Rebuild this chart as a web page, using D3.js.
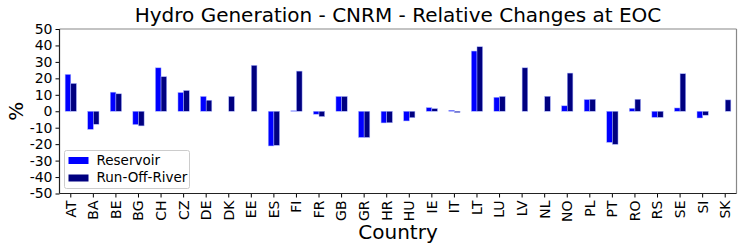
<!DOCTYPE html>
<html>
<head>
<meta charset="utf-8">
<script src="https://cdn.jsdelivr.net/npm/d3@7"></script>
<style>
  body { margin: 0; background: #fff; }
  text { font-family: "DejaVu Sans", sans-serif; }
</style>
</head>
<body>
<div id="main"></div>
<script>
// ---- data ----
var countries = ["AT","BA","BE","BG","CH","CZ","DE","DK","EE","ES","FI","FR","GB","GR","HR",
                 "HU","IE","IT","LT","LU","LV","NL","NO","PL","PT","RO","RS","SE","SI","SK"];
var reservoir = [22.4,-11,11.6,-8.1,26.4,11.4,9,0,0,-21.1,0.3,-1.8,9,-15.9,-7.1,
                 -5.9,2.2,0.6,36.6,8.5,0,0,3.3,7.1,-18.9,1.8,-3.7,2,-4.1,0];
var runOffRiver = [16.9,-7.9,10.6,-8.9,21,12.6,6.7,9,27.9,-20.7,24.4,-3.2,9,-15.9,-7,
                   -3.9,1.6,-0.8,39.2,9,26.4,9.1,23.2,7.3,-20.1,7.3,-3.7,22.8,-2.4,6.9];
var yTicks = d3.range(-50, 51, 10);
var seriesNames = ["Reservoir", "Run-Off-River"];
var seriesColors = ["#0000ff", "#000080"];

var W = 748, H = 252;
var plot = {left: 59.5, right: 736.5, top: 29, bottom: 193.5};

var svg = d3.select("#main").append("svg")
    .attr("width", W)
    .attr("height", H);

var x = d3.scaleBand()
    .domain(countries)
    .range([plot.left, plot.right])
    .padding(0);

var y = d3.scaleLinear()
    .domain([-50, 50])
    .range([plot.bottom, plot.top]);

var barW = x.step() * 0.25;

// bars
var series = [reservoir, runOffRiver];
series.forEach(function(vals, si){
  svg.append("g")
    .selectAll("rect")
    .data(vals)
    .enter()
    .append("rect")
    .attr("x", function(d, i){ return x(countries[i]) + x.bandwidth()/2 + (si - 1) * barW; })
    .attr("width", barW)
    .attr("y", function(d){ return Math.min(y(d), y(0)); })
    .attr("height", function(d){ return Math.abs(y(d) - y(0)); })
    .attr("fill", seriesColors[si])
    .attr("stroke", "#aab4ff")
    .attr("stroke-width", 0.5);
});

// axes
var yAxis = svg.append("g")
    .attr("transform", "translate(" + plot.left + ",0)")
    .call(d3.axisLeft(y).tickValues(yTicks).tickSize(4).tickPadding(3).tickFormat(d3.format("d")));
yAxis.select(".domain").remove();
yAxis.selectAll("text").attr("font-size", 14).attr("fill", "#000")
    .text(function(d){ return d < 0 ? "-" + Math.abs(d) : d; });
yAxis.selectAll("line").attr("stroke", "#000");

var xAxis = svg.append("g")
    .attr("transform", "translate(0," + plot.bottom + ")")
    .call(d3.axisBottom(x).tickSize(4).tickPadding(3));
xAxis.select(".domain").remove();
xAxis.selectAll("line").attr("stroke", "#000");
xAxis.selectAll("text")
    .attr("font-size", 14)
    .attr("fill", "#000")
    .attr("transform", "rotate(-90)")
    .attr("text-anchor", "end")
    .attr("x", -7)
    .attr("y", 0)
    .attr("dy", "0.35em");

// frame
svg.append("line").attr("x1", plot.left).attr("x2", plot.right).attr("y1", plot.top).attr("y2", plot.top)
    .attr("stroke", "#888").attr("stroke-width", 1.2);
svg.append("line").attr("x1", plot.right).attr("x2", plot.right).attr("y1", plot.top).attr("y2", plot.bottom)
    .attr("stroke", "#888").attr("stroke-width", 1.2);
svg.append("line").attr("x1", plot.left).attr("x2", plot.left).attr("y1", plot.top).attr("y2", plot.bottom)
    .attr("stroke", "#222").attr("stroke-width", 1.2);
svg.append("line").attr("x1", plot.left).attr("x2", plot.right).attr("y1", plot.bottom).attr("y2", plot.bottom)
    .attr("stroke", "#222").attr("stroke-width", 1.2);

// titles
svg.append("text")
    .attr("x", (plot.left + plot.right) / 2)
    .attr("y", 22)
    .attr("text-anchor", "middle")
    .attr("font-size", 20)
    .text("Hydro Generation - CNRM - Relative Changes at EOC");

svg.append("text")
    .attr("x", (plot.left + plot.right) / 2)
    .attr("y", 239)
    .attr("text-anchor", "middle")
    .attr("font-size", 20)
    .text("Country");

svg.append("text")
    .attr("transform", "translate(23," + ((plot.top + plot.bottom) / 2) + ") rotate(-90)")
    .attr("text-anchor", "middle")
    .attr("font-size", 20)
    .text("%");

// legend
var leg = svg.append("g").attr("transform", "translate(64.5,150.5)");
leg.append("rect")
    .attr("width", 125).attr("height", 38).attr("rx", 2)
    .attr("fill", "#fff").attr("fill-opacity", 0.8)
    .attr("stroke", "#ccc");
seriesNames.forEach(function(name, i){
  leg.append("rect")
    .attr("x", 4).attr("y", 6.5 + i * 17.5)
    .attr("width", 20).attr("height", 7)
    .attr("fill", seriesColors[i]);
  leg.append("text")
    .attr("x", 32).attr("y", 14 + i * 17.5)
    .attr("font-size", 13.5)
    .text(name);
});
</script>
</body>
</html>
